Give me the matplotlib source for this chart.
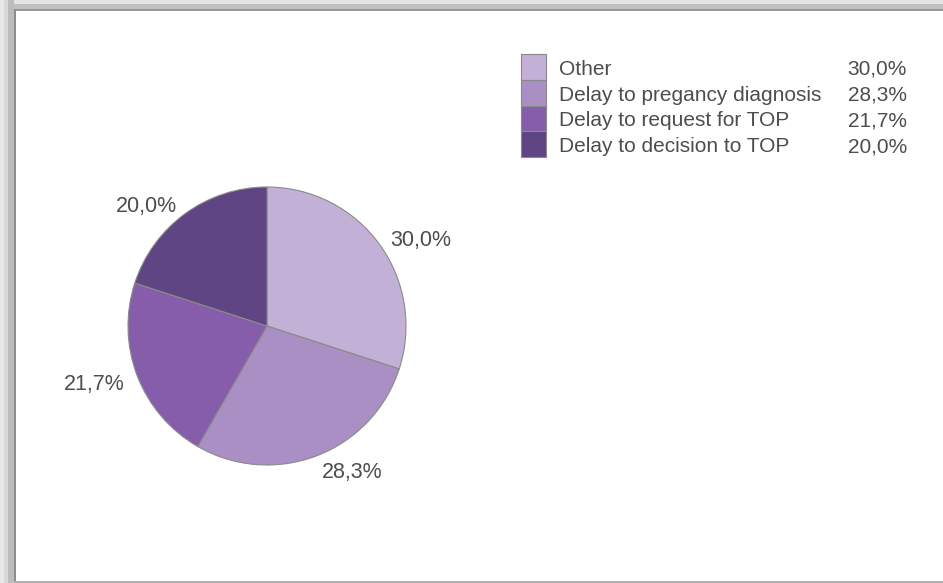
import matplotlib
matplotlib.use("Agg")
import matplotlib.pyplot as plt
from matplotlib.patches import Rectangle
from matplotlib.transforms import offset_copy

categories = ["Other", "Delay to pregancy diagnosis", "Delay to request for TOP", "Delay to decision to TOP"]
values = [30.0, 28.3, 21.7, 20.0]
value_labels = ["30,0%", "28,3%", "21,7%", "20,0%"]
colors = ["#c3b0d6", "#a98fc4", "#865daa", "#5f4583"]

plt.rcParams['font.family'] = ['Liberation Sans', 'DejaVu Sans']
W, H = 943, 583
fig = plt.figure(figsize=(W / 100, H / 100), dpi=100)
fig.patch.set_facecolor("white")

def px(x, y, w, h):
    return (x / W, 1 - (y + h) / H, w / W, h / H)

# frame / shadow
for (x, y, w, h, c) in [
    (0, 0, W, 4, "#e4e4e4"), (0, 4, W, 5, "#c0c0c0"), (0, 9, W, 1.5, "#9a9a9a"),
    (0, 0, 4, H, "#e8e8e8"), (4, 0, 4, H, "#d8d8d8"), (8, 0, 6, H, "#bcbcbc"), (14, 9, 1.5, H, "#8e8e8e"),
    (14, 581, W, 2, "#b0b0b0"),
]:
    l, b, ww, hh = px(x, y, w, h)
    fig.patches.append(Rectangle((l, b), ww, hh, transform=fig.transFigure,
                                 facecolor=c, edgecolor="none", zorder=0))

text_color = "#4d4d4d"

# pie
cx, cy, R = 267, 326, 139
half = 1.5 * R
ax = fig.add_axes([(cx - half) / W, (H - cy - half) / H, 2 * half / W, 2 * half / H])
wedges, texts = ax.pie(values, labels=value_labels, colors=colors, startangle=90, counterclock=False,
                       labeldistance=1.1, radius=1,
                       wedgeprops=dict(edgecolor="#8a8a8a", linewidth=0.8),
                       textprops=dict(fontsize=15.5, color=text_color))
for t in texts:
    t.set_transform(offset_copy(t.get_transform(), fig=fig, x=0, y=-4, units="dots"))
ax.set_xlim(-1.5, 1.5)
ax.set_ylim(-1.5, 1.5)
ax.set_aspect("equal")
ax.axis("off")

# legend
lx, ly0, sw, sh = 521, 54, 25, 25.8
for i, (cat, lab, col) in enumerate(zip(categories, value_labels, colors)):
    y = ly0 + i * sh
    l, b, ww, hh = px(lx, y, sw, sh)
    fig.patches.append(Rectangle((l, b), ww, hh, transform=fig.transFigure,
                                 facecolor=col, edgecolor="#8a8a8a", linewidth=0.8, zorder=2))
    ty = 1 - (y + sh / 2 + 2.5) / H
    fig.text(559 / W, ty, cat, fontsize=15, color=text_color, ha="left", va="center")
    fig.text(907 / W, ty, lab, fontsize=15, color=text_color, ha="right", va="center")

fig.savefig("out.png", dpi=100, facecolor=fig.get_facecolor())
